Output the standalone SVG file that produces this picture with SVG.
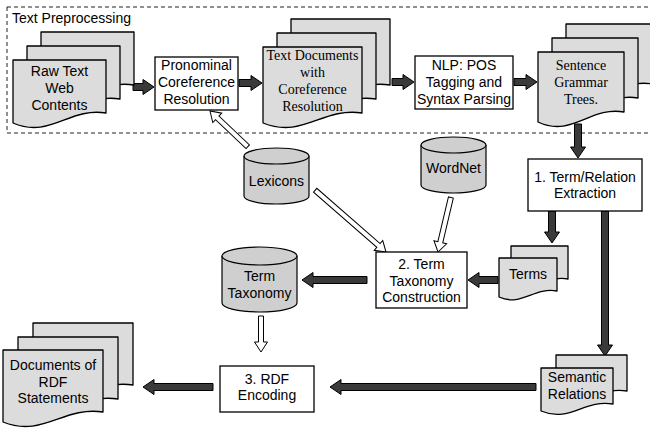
<svg xmlns="http://www.w3.org/2000/svg" width="650" height="428" viewBox="0 0 650 428">
  <style>
    .box { fill: #ffffff; stroke: #000; stroke-width: 1.3; }
    .doc { fill: #dcdcdc; stroke: #000; stroke-width: 1.3; stroke-linejoin: round; }
    .cyl { fill: #cfcfcf; stroke: #000; stroke-width: 1.2; }
    .thick { fill: #3a3a3a; stroke: #000; stroke-width: 1; stroke-linejoin: miter; }
    .hollow { fill: #ffffff; stroke: #000; stroke-width: 1; }
    .t { font-family: "Liberation Sans", Arial, sans-serif; font-size: 14px; fill: #000; text-anchor: middle; }
    .s { font-family: "Liberation Serif", "Times New Roman", serif; font-size: 14px; fill: #000; text-anchor: middle; }
    .lbl { font-family: "Liberation Sans", Arial, sans-serif; font-size: 14px; fill: #000; }
    .frame { fill: none; stroke: #222; stroke-width: 1; stroke-dasharray: 4 3; }
  </style>

  <!-- preprocessing stage frame -->
  <g id="text-preprocessing">
    <rect class="frame" x="7" y="7" width="660" height="126"/>
    <text class="lbl" x="12" y="23">Text Preprocessing</text>
  </g>

  <!-- connectors -->
  <g id="connectors">
    <polygon class="thick" transform="translate(154,87)" points="0,0 -11,-7.5 -11,-3.5 -21,-3.5 -21,3.5 -11,3.5 -11,7.5"/>
    <polygon class="thick" transform="translate(262,83)" points="0,0 -11,-7.5 -11,-3.5 -23,-3.5 -23,3.5 -11,3.5 -11,7.5"/>
    <polygon class="thick" transform="translate(414,82)" points="0,0 -11,-7.5 -11,-3.5 -22,-3.5 -22,3.5 -11,3.5 -11,7.5"/>
    <polygon class="thick" transform="translate(537,82)" points="0,0 -11,-7.5 -11,-3.5 -23,-3.5 -23,3.5 -11,3.5 -11,7.5"/>
    <polygon class="thick" transform="translate(578,158) rotate(90)" points="0,0 -11,-7.5 -11,-3.5 -34,-3.5 -34,3.5 -11,3.5 -11,7.5"/>
    <polygon class="thick" transform="translate(552,243) rotate(90)" points="0,0 -11,-7.5 -11,-3.5 -32,-3.5 -32,3.5 -11,3.5 -11,7.5"/>
    <polygon class="thick" transform="translate(468,280) rotate(180)" points="0,0 -11,-7.5 -11,-3.5 -30,-3.5 -30,3.5 -11,3.5 -11,7.5"/>
    <polygon class="thick" transform="translate(302,280) rotate(180)" points="0,0 -11,-7.5 -11,-3.5 -65,-3.5 -65,3.5 -11,3.5 -11,7.5"/>
    <polygon class="thick" transform="translate(605,356) rotate(90)" points="0,0 -11,-7.5 -11,-3.5 -145,-3.5 -145,3.5 -11,3.5 -11,7.5"/>
    <polygon class="thick" transform="translate(330,387) rotate(180)" points="0,0 -11,-7.5 -11,-3.5 -206,-3.5 -206,3.5 -11,3.5 -11,7.5"/>
    <polygon class="thick" transform="translate(143,387) rotate(180)" points="0,0 -11,-7.5 -11,-3.5 -70,-3.5 -70,3.5 -11,3.5 -11,7.5"/>

    <polygon class="hollow" transform="translate(210,111) rotate(223.45)" points="0,0 -10,-6.5 -10,-2.5 -52,-2.5 -52,2.5 -10,2.5 -10,6.5"/>
    <polygon class="hollow" transform="translate(386,252) rotate(41.1)" points="0,0 -10,-6.5 -10,-2.5 -94,-2.5 -94,2.5 -10,2.5 -10,6.5"/>
    <polygon class="hollow" transform="translate(438,252) rotate(103.3)" points="0,0 -10,-6.5 -10,-2.5 -56,-2.5 -56,2.5 -10,2.5 -10,6.5"/>
    <polygon class="hollow" transform="translate(261,352) rotate(90)" points="0,0 -10,-6.5 -10,-2.5 -36,-2.5 -36,2.5 -10,2.5 -10,6.5"/>
  </g>

  <!-- raw text web contents (stacked documents) -->
  <g id="raw-text">
    <path class="doc" d="M41,32 H134 V85 C96,79 78,111 41,95 Z"/>
    <path class="doc" d="M27,46 H120 V99 C82,93 64,125 27,109 Z"/>
    <path class="doc" d="M13,60 H106 V113 C69,107 50,139 13,123 Z"/>
    <text class="t" x="59.5" y="76">Raw Text</text>
    <text class="t" x="59.5" y="93">Web</text>
    <text class="t" x="59.5" y="110">Contents</text>
  </g>

  <g id="pronominal">
    <rect class="box" x="155" y="57" width="83" height="53"/>
    <text class="t" x="196.5" y="70">Pronominal</text>
    <text class="t" x="196.5" y="87">Coreference</text>
    <text class="t" x="196.5" y="104">Resolution</text>
  </g>

  <g id="text-documents">
    <path class="doc" d="M291,19 H390 V85 C350,79 331,111 291,95 Z"/>
    <path class="doc" d="M277,33 H376 V99 C336,93 317,125 277,109 Z"/>
    <path class="doc" d="M263,47 H362 V113 C322,107 303,139 263,123 Z"/>
    <text class="s" x="312.5" y="60">Text Documents</text>
    <text class="s" x="312.5" y="77">with</text>
    <text class="s" x="312.5" y="94">Coreference</text>
    <text class="s" x="312.5" y="111">Resolution</text>
  </g>

  <g id="nlp">
    <rect class="box" x="415" y="56" width="98" height="53"/>
    <text class="t" x="464" y="70">NLP: POS</text>
    <text class="t" x="464" y="87">Tagging and</text>
    <text class="t" x="464" y="104">Syntax Parsing</text>
  </g>

  <g id="sentence-trees">
    <path class="doc" d="M566,24 H652 V84 C618,78 600,110 566,94 Z"/>
    <path class="doc" d="M552,38 H638 V98 C604,92 586,124 552,108 Z"/>
    <path class="doc" d="M538,52 H624 V112 C590,106 572,138 538,122 Z"/>
    <text class="s" x="581" y="70">Sentence</text>
    <text class="s" x="581" y="87">Grammar</text>
    <text class="s" x="581" y="104">Trees.</text>
  </g>

  <g id="term-relation-extraction">
    <rect class="box" x="528" y="159" width="114" height="52"/>
    <text class="t" x="585" y="182">1. Term/Relation</text>
    <text class="t" x="585" y="198">Extraction</text>
  </g>

  <g id="lexicons">
    <path class="cyl" d="M244,156 A32.5,8 0 0,1 309,156 V196 A32.5,8 0 0,1 244,196 Z"/>
    <path class="cyl" fill="none" d="M244,156 A32.5,8 0 0,0 309,156"/>
    <text class="t" x="276.5" y="186">Lexicons</text>
  </g>

  <g id="wordnet">
    <path class="cyl" d="M421,145 A32.5,8 0 0,1 486,145 V185 A32.5,8 0 0,1 421,185 Z"/>
    <path class="cyl" fill="none" d="M421,145 A32.5,8 0 0,0 486,145"/>
    <text class="t" x="453.5" y="173">WordNet</text>
  </g>

  <g id="terms">
    <path class="doc" d="M511,246 H568 V279 C545,275 534,295 511,285 Z"/>
    <path class="doc" d="M499,258 H557 V291 C533,287 522,307 499,297 Z"/>
    <text class="t" x="528" y="279">Terms</text>
  </g>

  <g id="term-taxonomy-construction">
    <rect class="box" x="376" y="252" width="91" height="56"/>
    <text class="t" x="421.5" y="269">2. Term</text>
    <text class="t" x="421.5" y="286">Taxonomy</text>
    <text class="t" x="421.5" y="302">Construction</text>
  </g>

  <g id="term-taxonomy">
    <path class="cyl" d="M222,256 A37.5,9 0 0,1 297,256 V303 A37.5,9 0 0,1 222,303 Z"/>
    <path class="cyl" fill="none" d="M222,256 A37.5,9 0 0,0 297,256"/>
    <text class="t" x="259.5" y="281">Term</text>
    <text class="t" x="259.5" y="298">Taxonomy</text>
  </g>

  <g id="semantic-relations">
    <path class="doc" d="M556,355 H627 V391 C598,386 585,410 556,398 Z"/>
    <path class="doc" d="M541,368 H613 V404 C584,399 570,423 541,411 Z"/>
    <text class="t" x="577" y="382">Semantic</text>
    <text class="t" x="577" y="399">Relations</text>
  </g>

  <g id="rdf-encoding">
    <rect class="box" x="220" y="366" width="94" height="46"/>
    <text class="t" x="267" y="384">3. RDF</text>
    <text class="t" x="267" y="400">Encoding</text>
  </g>

  <g id="rdf-documents">
    <path class="doc" d="M33,323 H133 V385 C93,379 73,411 33,395 Z"/>
    <path class="doc" d="M18,337 H118 V399 C78,393 58,425 18,409 Z"/>
    <path class="doc" d="M3,350 H103 V412 C63,406 43,438 3,422 Z"/>
    <text class="t" x="53" y="370">Documents of</text>
    <text class="t" x="53" y="387">RDF</text>
    <text class="t" x="53" y="403">Statements</text>
  </g>
</svg>
